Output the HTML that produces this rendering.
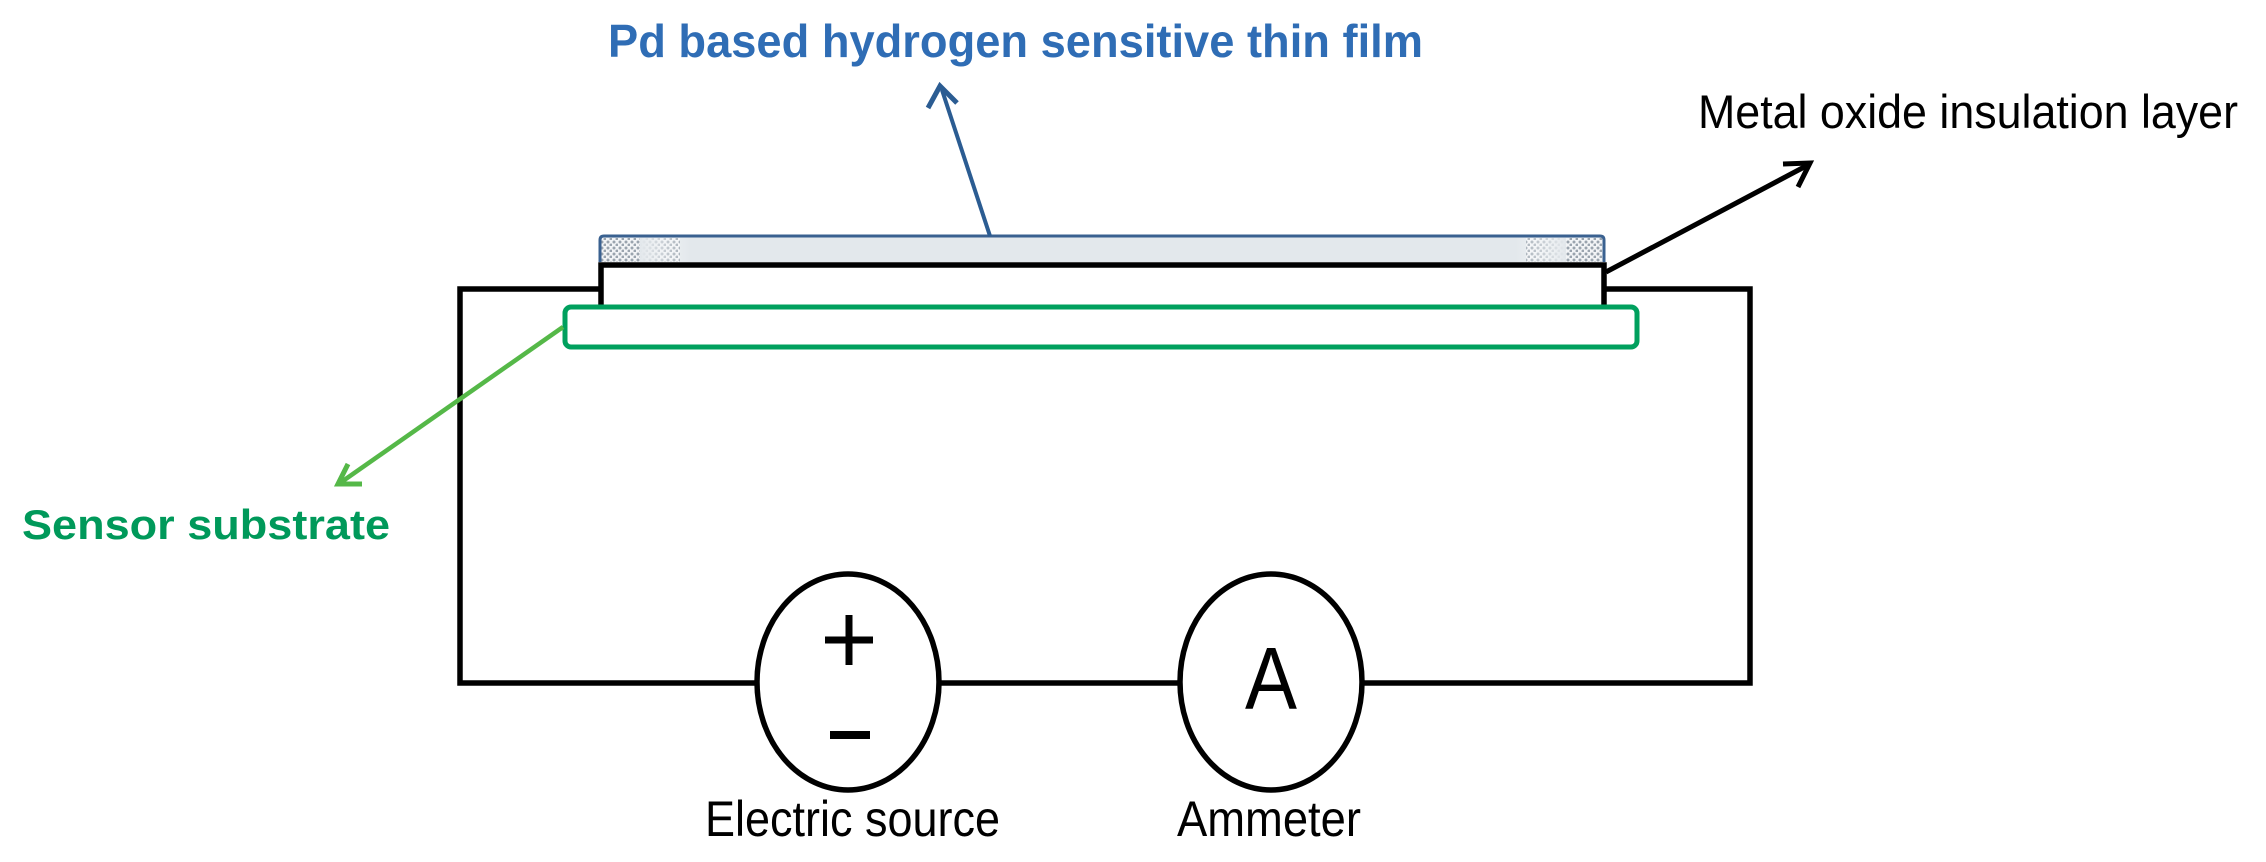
<!DOCTYPE html>
<html><head><meta charset="utf-8"><style>
html,body{margin:0;padding:0;background:#fff;}
svg{display:block;}
</style></head><body>
<svg width="2266" height="862" viewBox="0 0 2266 862" xmlns="http://www.w3.org/2000/svg">
<defs>
<pattern id="dots" width="6" height="6" patternUnits="userSpaceOnUse">
<rect width="6" height="6" fill="#f2f4f6"/>
<circle cx="2" cy="2" r="1.5" fill="#9aa4ae"/>
<circle cx="5" cy="5" r="1.5" fill="#9aa4ae"/>
</pattern>
<linearGradient id="fl" x1="0" x2="1"><stop offset="0" stop-color="#fff" stop-opacity="0"/><stop offset="1" stop-color="#e3e8ec"/></linearGradient>
<linearGradient id="fr" x1="0" x2="1"><stop offset="0" stop-color="#e3e8ec"/><stop offset="1" stop-color="#fff" stop-opacity="0"/></linearGradient>
</defs>
<rect width="2266" height="862" fill="#fff"/>

<text x="608" y="57" font-family="Liberation Sans, sans-serif" font-weight="bold" font-size="46" fill="#2f6db5" textLength="815" lengthAdjust="spacingAndGlyphs">Pd based hydrogen sensitive thin film</text>

<rect x="600" y="236" width="1004" height="26" fill="#e3e8ec"/>
<rect x="600" y="238" width="80" height="24" fill="url(#dots)"/>
<rect x="640" y="238" width="50" height="24" fill="url(#fl)" transform="rotate(180 665 250)"/>
<rect x="1526" y="238" width="78" height="24" fill="url(#dots)"/>
<rect x="1516" y="238" width="50" height="24" fill="url(#fr)" transform="rotate(180 1541 250)"/>
<path d="M600,262 V240 Q600,236 604,236 H1600 Q1604,236 1604,240 V262" fill="none" stroke="#3a6190" stroke-width="3"/>

<path d="M601,306 V265 H1604 V306" fill="none" stroke="#000" stroke-width="5.5"/>

<polyline points="601,289 460,289 460,683 758,683" fill="none" stroke="#000" stroke-width="5.5"/>
<polyline points="1604,289 1750,289 1750,683 1362,683" fill="none" stroke="#000" stroke-width="5.5"/>
<line x1="940" y1="683" x2="1180" y2="683" stroke="#000" stroke-width="5.5"/>

<rect x="565" y="307" width="1072" height="40" rx="6" fill="#fff" stroke="#00a05e" stroke-width="5"/>

<ellipse cx="848" cy="682" rx="91" ry="108" fill="#fff" stroke="#000" stroke-width="5.5"/>
<line x1="825" y1="640" x2="873" y2="640" stroke="#000" stroke-width="7"/>
<line x1="849" y1="615" x2="849" y2="665" stroke="#000" stroke-width="7"/>
<line x1="830" y1="735" x2="870" y2="735" stroke="#000" stroke-width="8"/>

<ellipse cx="1271" cy="682" rx="91" ry="108" fill="#fff" stroke="#000" stroke-width="5.5"/>
<text x="1271" y="709" text-anchor="middle" font-family="Liberation Sans, sans-serif" font-size="88" fill="#000" textLength="52" lengthAdjust="spacingAndGlyphs">A</text>

<text x="705" y="836" font-family="Liberation Sans, sans-serif" font-size="50" fill="#000" textLength="295" lengthAdjust="spacingAndGlyphs">Electric source</text>
<text x="1177" y="836" font-family="Liberation Sans, sans-serif" font-size="50" fill="#000" textLength="184" lengthAdjust="spacingAndGlyphs">Ammeter</text>
<text x="1698" y="128" font-family="Liberation Sans, sans-serif" font-size="47" fill="#000" textLength="540" lengthAdjust="spacingAndGlyphs">Metal oxide insulation layer</text>
<text x="22" y="539" font-family="Liberation Sans, sans-serif" font-weight="bold" font-size="42" fill="#00995a" textLength="368" lengthAdjust="spacingAndGlyphs">Sensor substrate</text>

<line x1="990" y1="236" x2="942" y2="90" stroke="#2b5c92" stroke-width="4"/>
<polyline points="928,108 940,86 957,103" fill="none" stroke="#2b5c92" stroke-width="5"/>

<line x1="1606" y1="272" x2="1808" y2="165" stroke="#000" stroke-width="5"/>
<polyline points="1783,164 1810,163 1798,187" fill="none" stroke="#000" stroke-width="5"/>

<line x1="563" y1="327" x2="340" y2="483" stroke="#55b848" stroke-width="4.5"/>
<polyline points="348,464 338,484 362,484" fill="none" stroke="#55b848" stroke-width="5"/>
</svg>
</body></html>
